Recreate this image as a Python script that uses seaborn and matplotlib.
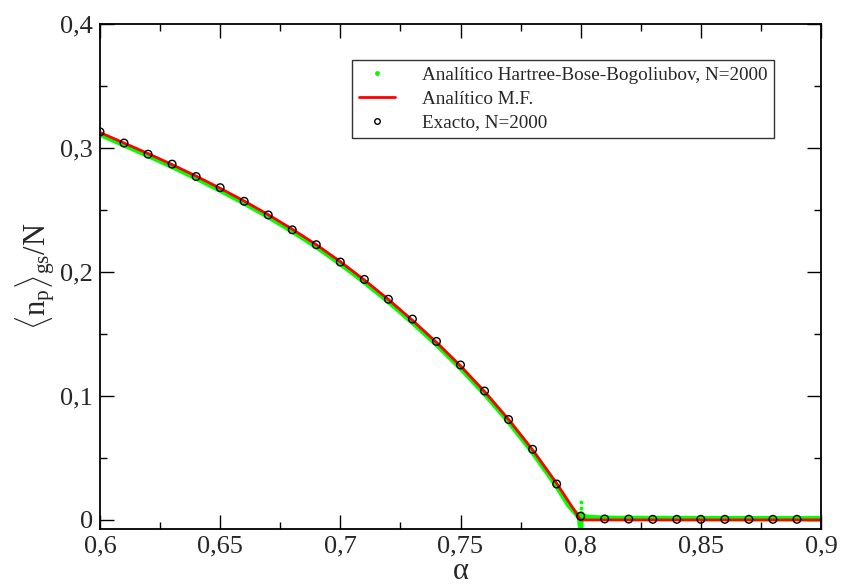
import numpy as np
import pandas as pd
import matplotlib
matplotlib.use("Agg")
import matplotlib.pyplot as plt
from matplotlib.lines import Line2D
from matplotlib.ticker import MultipleLocator, FuncFormatter
import seaborn as sns

# ---- data ----
alpha_exact = [0.60, 0.61, 0.62, 0.63, 0.64, 0.65, 0.66, 0.67, 0.68, 0.69,
               0.70, 0.71, 0.72, 0.73, 0.74, 0.75, 0.76, 0.77, 0.78, 0.79,
               0.80, 0.81, 0.82, 0.83, 0.84, 0.85, 0.86, 0.87, 0.88, 0.89]
np_exact = [0.313, 0.304, 0.295, 0.287, 0.277, 0.268, 0.257, 0.246, 0.234, 0.222,
            0.208, 0.194, 0.178, 0.162, 0.144, 0.125, 0.104, 0.081, 0.057, 0.029,
            0.003, 0.0008, 0.0007, 0.0005, 0.0005, 0.0005, 0.0005, 0.0005, 0.0005, 0.0005]

alpha_mf = [0.60, 0.61, 0.62, 0.63, 0.64, 0.65, 0.66, 0.67, 0.68, 0.69,
            0.70, 0.71, 0.72, 0.73, 0.74, 0.75, 0.76, 0.77, 0.78, 0.79,
            0.80, 0.85, 0.90]
np_mf = [0.3125, 0.3040, 0.2955, 0.2866, 0.2773, 0.2675, 0.2572, 0.2462, 0.2345, 0.2220,
         0.2083, 0.1935, 0.1778, 0.1610, 0.1432, 0.1242, 0.1035, 0.0810, 0.0565, 0.0295,
         0.0, 0.0, 0.0]

alpha_hbb = [0.60, 0.61, 0.62, 0.63, 0.64, 0.65, 0.66, 0.67, 0.68, 0.69,
             0.70, 0.71, 0.72, 0.73, 0.74, 0.75, 0.76, 0.77, 0.78, 0.79,
             0.795, 0.7995, 0.800, 0.8003, 0.801, 0.802, 0.804, 0.808, 0.815, 0.85, 0.90]
np_hbb = [0.3110, 0.3025, 0.2940, 0.2851, 0.2758, 0.2660, 0.2557, 0.2447, 0.2330, 0.2205,
          0.2068, 0.1920, 0.1763, 0.1595, 0.1417, 0.1227, 0.1020, 0.0795, 0.0548, 0.0275,
          0.0120, 0.0020, -0.0075, 0.0050, 0.0035, 0.0025, 0.0020, 0.0016, 0.0013, 0.0011, 0.0010]

alpha_spike = [0.8001, 0.8002, 0.8003, 0.8004]
np_spike = [0.0145, 0.0095, 0.0060, 0.0045]

labels = ["Analítico Hartree-Bose-Bogoliubov, N=2000", "Analítico M.F.", "Exacto, N=2000"]

df_exact = pd.DataFrame({"alpha": alpha_exact, "n": np_exact})
df_mf = pd.DataFrame({"alpha": alpha_mf, "n": np_mf})
df_hbb = pd.DataFrame({"alpha": alpha_hbb, "n": np_hbb})
df_spike = pd.DataFrame({"alpha": alpha_spike, "n": np_spike})

sns.set_theme(style="ticks")
plt.rcParams["font.family"] = ["Liberation Serif", "DejaVu Serif"]
plt.rcParams["mathtext.fontset"] = "custom"
plt.rcParams["mathtext.rm"] = "Liberation Serif"
plt.rcParams["mathtext.it"] = "Liberation Serif:italic"

fig = plt.figure(figsize=(8.41, 5.86), dpi=100)
ax = fig.add_axes([100 / 841, 1 - 529 / 586, 721 / 841, 505 / 586])

green = "#00ff00"
red = "#ff0000"

sns.lineplot(data=df_hbb, x="alpha", y="n", ax=ax, color=green, linewidth=3.8,
             sort=False, estimator=None, legend=False)
sns.scatterplot(data=df_spike, x="alpha", y="n", ax=ax, color=green, s=8,
                linewidth=0, legend=False)
sns.lineplot(data=df_mf, x="alpha", y="n", ax=ax, color=red, linewidth=2.0,
             sort=False, estimator=None, legend=False)
sns.scatterplot(data=df_exact, x="alpha", y="n", ax=ax, marker="o",
                facecolor="none", edgecolor="black", s=30, linewidth=1.0,
                legend=False, zorder=5)

ax.set_xlim(0.6, 0.9)
ax.set_ylim(-0.0073, 0.4)
ax.xaxis.set_major_locator(MultipleLocator(0.05))
ax.xaxis.set_minor_locator(MultipleLocator(0.025))
ax.yaxis.set_major_locator(MultipleLocator(0.1))
ax.yaxis.set_minor_locator(MultipleLocator(0.05))

def fmt(v, pos):
    s = f"{v:.2f}".rstrip("0").rstrip(".")
    if abs(v) < 1e-9:
        s = "0"
    return s.replace(".", ",")

ax.xaxis.set_major_formatter(FuncFormatter(fmt))
ax.yaxis.set_major_formatter(FuncFormatter(fmt))

ax.tick_params(which="both", direction="in", top=True, right=True, color="black", width=1.0)
ax.tick_params(which="major", length=10, labelsize=19, pad=5)
ax.tick_params(which="minor", length=5)
for sp in ax.spines.values():
    sp.set_linewidth(1.3)
    sp.set_color("black")

ax.set_xlabel("α", fontsize=22, labelpad=-1)
ax.set_ylabel(r"$\langle\mathrm{n_p}\rangle_{\mathrm{gs}}\mathrm{/N}$", fontsize=22, labelpad=2)

handles = [
    Line2D([], [], linestyle="none", marker="o", markersize=2.5, color=green),
    Line2D([], [], color=red, linewidth=2.0),
    Line2D([], [], linestyle="none", marker="o", markersize=4, markerfacecolor="none",
           markeredgecolor="black", markeredgewidth=1.0),
]
leg = ax.legend(handles, labels, loc="upper left", bbox_to_anchor=(352 / 841, 1 - 60 / 586),
                bbox_transform=fig.transFigure, fontsize=13.8, frameon=True, fancybox=False,
                borderpad=0.35, labelspacing=0.32, handlelength=1.9, handletextpad=1.4,
                borderaxespad=0)
leg.get_frame().set_edgecolor("black")
leg.get_frame().set_linewidth(1.0)

fig.savefig("out.png", dpi=100)
